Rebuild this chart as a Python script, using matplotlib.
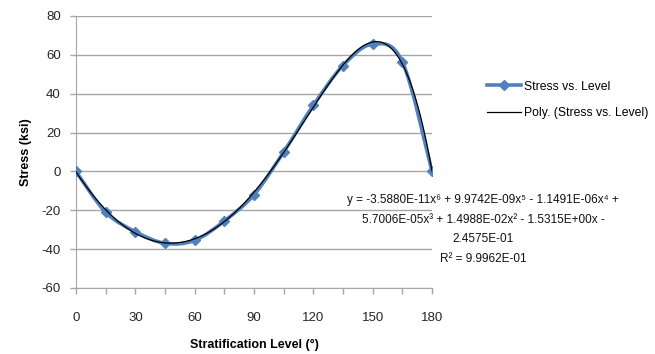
import numpy as np
import matplotlib.pyplot as plt
from matplotlib.path import Path
from matplotlib.patches import PathPatch
from matplotlib.lines import Line2D

plt.rcParams['font.family'] = ['Liberation Sans', 'DejaVu Sans']
plt.rcParams['axes.unicode_minus'] = False

# stratification level (deg) and measured stress (ksi)
levels = [0, 15, 30, 45, 60, 75, 90, 105, 120, 135, 150, 165, 180]
stress = [0, -21, -31, -37, -35.5, -25.5, -12, 10, 34, 54.5, 65.5, 56.5, 0]

# 6th order trendline coefficients, highest power first
poly_coef = [-3.5880e-11, 9.9742e-09, -1.1491e-06, 5.7006e-05,
             1.4988e-02, -1.5315e+00, -2.4575e-01]

x_ticks = [0, 30, 60, 90, 120, 150, 180]
y_ticks = [-60, -40, -20, 0, 20, 40, 60, 80]

blue = '#4F81BD'
grid_col = '#A6A6A6'


def smooth_path(xv, yv, tension=1/6):
    # excel style smoothed line: cubic bezier through every point
    p = np.column_stack([xv, yv]).astype(float)
    verts = [p[0]]
    codes = [Path.MOVETO]
    for i in range(len(p) - 1):
        p0 = p[i - 1] if i > 0 else p[i]
        p3 = p[i + 2] if i + 2 < len(p) else p[i + 1]
        c1 = p[i] + (p[i + 1] - p0) * tension
        c2 = p[i + 1] - (p3 - p[i]) * tension
        verts += [c1, c2, p[i + 1]]
        codes += [Path.CURVE4] * 3
    return Path(verts, codes)


fig = plt.figure(figsize=(6.55, 3.54), dpi=100)
ax = fig.add_axes([76/655, 1 - 288/354, (432 - 76)/655, (288 - 16)/354])

ax.add_patch(PathPatch(smooth_path(levels, stress), fc='none', ec=blue,
                       lw=2.6, capstyle='round', joinstyle='round', zorder=3))
ax.plot(levels, stress, ls='none', color=blue, marker='D', ms=5.5, zorder=3)
xs = np.linspace(0, 180, 300)
ax.plot(xs, np.polyval(poly_coef, xs), color='black', lw=0.9, zorder=4)

ax.set_xlim(0, 180)
ax.set_ylim(-60, 80)
ax.set_xticks(x_ticks)
ax.set_xticks(levels, minor=True)
ax.set_yticks(y_ticks)
ax.yaxis.grid(True, color=grid_col, lw=1)
ax.set_axisbelow(True)
for s in ['top', 'right']:
    ax.spines[s].set_visible(False)
for s in ['left', 'bottom']:
    ax.spines[s].set_color(grid_col)
ax.tick_params(axis='both', which='both', color=grid_col, labelsize=9.5,
               labelcolor='#262626', length=4, width=1)
ax.tick_params(axis='x', pad=13)
ax.tick_params(axis='y', pad=7)

ax.set_xlabel('Stratification Level (°)', fontsize=9, fontweight='bold', labelpad=11)
ax.set_ylabel('Stress (ksi)', fontsize=9, fontweight='bold', labelpad=7)

eq_lines = ['y = -3.5880E-11x⁶ + 9.9742E-09x⁵ - 1.1491E-06x⁴ +',
            '5.7006E-05x³ + 1.4988E-02x² - 1.5315E+00x -',
            '2.4575E-01',
            'R² = 9.9962E-01']
for i, line in enumerate(eq_lines):
    fig.text(483/655, 1 - (200 + 19.7*i)/354, line, ha='center', va='center',
             fontsize=8.5, color='#111111')

handles = [Line2D([], [], color=blue, lw=2.6, marker='D', ms=5.5),
           Line2D([], [], color='black', lw=0.9)]
fig.legend(handles, ['Stress vs. Level', 'Poly. (Stress vs. Level)'],
           loc='center left', bbox_to_anchor=(476/655, 1 - 100/354),
           frameon=False, fontsize=8.8, handlelength=2.8, handletextpad=0.2,
           labelspacing=1.2)

fig.savefig('out.png', dpi=100)
